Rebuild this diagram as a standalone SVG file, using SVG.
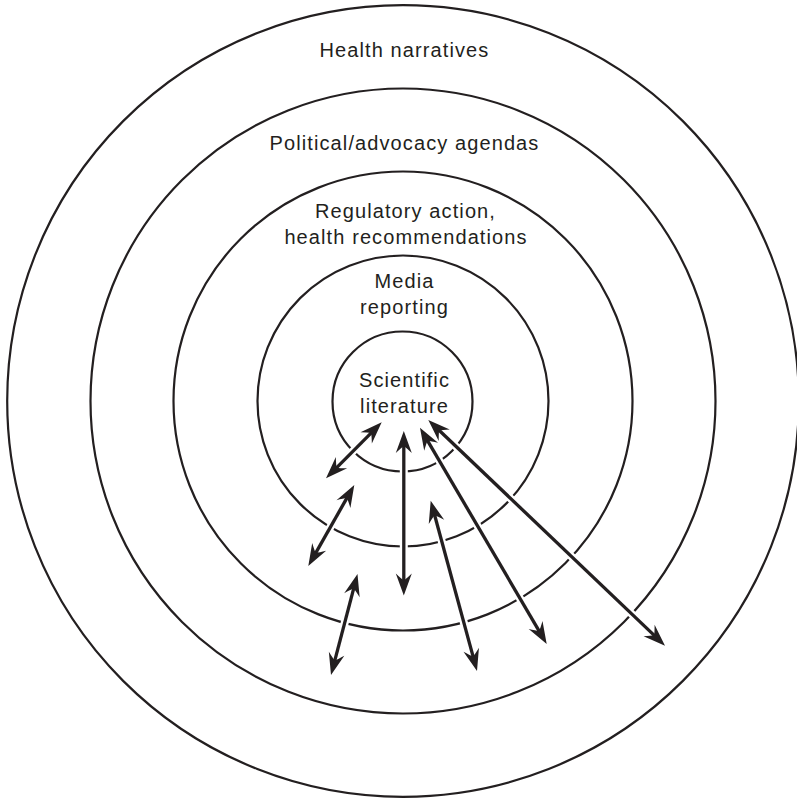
<svg xmlns="http://www.w3.org/2000/svg" width="797" height="801" viewBox="0 0 797 801">
  <style>
    .ring { fill: none; stroke: #231f20; stroke-width: 2.2; }
    .lbl { font-family: "Liberation Sans", Arial, sans-serif; font-size: 20px; letter-spacing: 1.1px; fill: #231f20; text-anchor: middle; }
    .halo { stroke: #ffffff; stroke-width: 8; fill: none; }
    .arr { stroke: #231f20; stroke-width: 3.3; fill: none; marker-start: url(#head); marker-end: url(#head); }
  </style>
  <defs>
    <marker id="head" markerUnits="userSpaceOnUse" viewBox="-24 -9 26 18" markerWidth="26" markerHeight="18" refX="-12" refY="0" orient="auto-start-reverse" overflow="visible">
      <path d="M0,0 L-22,-8 Q-17,-2.8 -15,0 Q-17,2.8 -22,8 Z" fill="#231f20"/>
    </marker>
  </defs>
  <rect width="797" height="801" fill="#ffffff"/>

  <g id="health-narratives">
    <circle class="ring" cx="403" cy="401" r="395.8"/>
    <text class="lbl" x="404.5" y="57.3">Health narratives</text>
  </g>
  <g id="political-advocacy-agendas">
    <circle class="ring" cx="403" cy="401" r="312.5"/>
    <text class="lbl" x="404.5" y="150">Political/advocacy agendas</text>
  </g>
  <g id="regulatory-action">
    <circle class="ring" cx="403" cy="401" r="229.5"/>
    <text class="lbl" x="405.5" y="218.3">Regulatory action,</text>
    <text class="lbl" x="406" y="244.3">health recommendations</text>
  </g>
  <g id="media-reporting">
    <circle class="ring" cx="403" cy="401" r="145.5"/>
    <text class="lbl" x="404.5" y="288.3">Media</text>
    <text class="lbl" x="404.5" y="314.3">reporting</text>
  </g>
  <g id="scientific-literature">
    <circle class="ring" cx="402.5" cy="401.5" r="70"/>
    <text class="lbl" x="404.5" y="387.3">Scientific</text>
    <text class="lbl" x="404.5" y="412.7">literature</text>
  </g>

  <g id="connectors">
    <g id="halos">
      <line class="halo" x1="373.24" y1="430.81" x2="334.46" y2="469.79"/>
      <line class="halo" x1="348.37" y1="495.43" x2="314.23" y2="555.57"/>
      <line class="halo" x1="403.8" y1="443" x2="403.8" y2="583.5"/>
      <line class="halo" x1="433.85" y1="512.28" x2="473.85" y2="659.42"/>
      <line class="halo" x1="426.06" y1="438.05" x2="540.64" y2="633.65"/>
      <line class="halo" x1="436.98" y1="428.28" x2="656.32" y2="637.42"/>
      <line class="halo" x1="354.45" y1="585.61" x2="334.05" y2="663.39"/>
    </g>
    <line class="arr" x1="373.24" y1="430.81" x2="334.46" y2="469.79"/>
    <line class="arr" x1="348.37" y1="495.43" x2="314.23" y2="555.57"/>
    <line class="arr" x1="403.8" y1="443" x2="403.8" y2="583.5"/>
    <line class="arr" x1="433.85" y1="512.28" x2="473.85" y2="659.42"/>
    <line class="arr" x1="426.06" y1="438.05" x2="540.64" y2="633.65"/>
    <line class="arr" x1="436.98" y1="428.28" x2="656.32" y2="637.42"/>
    <line class="arr" x1="354.45" y1="585.61" x2="334.05" y2="663.39"/>
  </g>
</svg>
